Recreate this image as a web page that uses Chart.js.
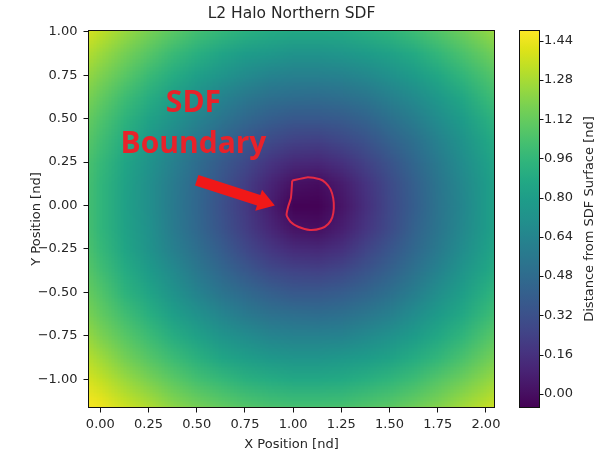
<!DOCTYPE html>
<html>
<head>
<meta charset="utf-8">
<script src="https://cdn.jsdelivr.net/npm/chart.js@4.4.1/dist/chart.umd.min.js"></script>
<style>
    html, body { margin: 0; padding: 0; background: #fff; }
    #chart { display: block; }
</style>
</head>
<body>
<canvas id="chart" width="602" height="457"></canvas>
<script>
// SDF samples on a regular grid, rows listed from top (largest y) to bottom
var xNodes = [-0.125, 0, 0.125, 0.25, 0.375, 0.5, 0.625, 0.75, 0.875, 1.0, 1.125, 1.25, 1.375, 1.5, 1.625, 1.75, 1.875, 2.0, 2.125];
var yNodes = [1.125, 1.0, 0.875, 0.75, 0.625, 0.5, 0.375, 0.25, 0.125, 0, -0.125, -0.25, -0.375, -0.5, -0.625, -0.75, -0.875, -1.0, -1.125, -1.25];
var sdfRows = [
    [1.51, 1.42, 1.34, 1.26, 1.19, 1.12, 1.07, 1.03, 1.00, 0.98, 0.98, 0.99, 1.02, 1.05, 1.10, 1.16, 1.23, 1.31, 1.39],
    [1.43, 1.33, 1.24, 1.16, 1.08, 1.01, 0.96, 0.91, 0.88, 0.86, 0.86, 0.87, 0.90, 0.94, 0.99, 1.06, 1.13, 1.21, 1.30],
    [1.35, 1.25, 1.16, 1.07, 0.98, 0.91, 0.84, 0.79, 0.76, 0.73, 0.73, 0.75, 0.78, 0.82, 0.88, 0.96, 1.04, 1.12, 1.22],
    [1.28, 1.18, 1.08, 0.98, 0.89, 0.81, 0.74, 0.68, 0.63, 0.61, 0.61, 0.62, 0.66, 0.71, 0.78, 0.86, 0.95, 1.04, 1.14],
    [1.22, 1.11, 1.00, 0.90, 0.80, 0.71, 0.63, 0.56, 0.51, 0.49, 0.48, 0.50, 0.54, 0.61, 0.68, 0.77, 0.86, 0.97, 1.07],
    [1.17, 1.05, 0.94, 0.83, 0.73, 0.63, 0.54, 0.46, 0.40, 0.36, 0.36, 0.38, 0.43, 0.51, 0.59, 0.69, 0.79, 0.90, 1.01],
    [1.13, 1.01, 0.89, 0.77, 0.66, 0.55, 0.45, 0.36, 0.29, 0.24, 0.23, 0.27, 0.33, 0.42, 0.51, 0.62, 0.73, 0.85, 0.96],
    [1.09, 0.97, 0.85, 0.73, 0.61, 0.49, 0.38, 0.28, 0.18, 0.12, 0.11, 0.16, 0.24, 0.34, 0.45, 0.57, 0.69, 0.81, 0.93],
    [1.08, 0.95, 0.83, 0.70, 0.58, 0.46, 0.34, 0.22, 0.10, 0.01, -0.01, 0.06, 0.17, 0.29, 0.41, 0.54, 0.66, 0.78, 0.91],
    [1.07, 0.95, 0.82, 0.70, 0.57, 0.45, 0.32, 0.20, 0.07, -0.05, -0.05, 0.03, 0.15, 0.28, 0.40, 0.53, 0.65, 0.78, 0.90],
    [1.08, 0.95, 0.83, 0.71, 0.58, 0.46, 0.34, 0.22, 0.11, 0.02, 0.00, 0.07, 0.18, 0.29, 0.42, 0.54, 0.66, 0.78, 0.91],
    [1.10, 0.97, 0.85, 0.73, 0.61, 0.50, 0.39, 0.28, 0.19, 0.13, 0.12, 0.16, 0.25, 0.35, 0.46, 0.57, 0.69, 0.81, 0.93],
    [1.13, 1.01, 0.89, 0.78, 0.67, 0.56, 0.46, 0.37, 0.29, 0.25, 0.24, 0.27, 0.34, 0.42, 0.52, 0.63, 0.74, 0.85, 0.97],
    [1.17, 1.06, 0.94, 0.84, 0.73, 0.63, 0.54, 0.47, 0.41, 0.37, 0.37, 0.39, 0.44, 0.51, 0.60, 0.70, 0.80, 0.91, 1.02],
    [1.22, 1.11, 1.01, 0.91, 0.81, 0.72, 0.64, 0.57, 0.52, 0.50, 0.49, 0.51, 0.55, 0.61, 0.69, 0.78, 0.87, 0.97, 1.08],
    [1.29, 1.18, 1.08, 0.99, 0.90, 0.82, 0.74, 0.69, 0.64, 0.62, 0.62, 0.63, 0.67, 0.72, 0.79, 0.87, 0.95, 1.05, 1.15],
    [1.36, 1.26, 1.16, 1.07, 0.99, 0.92, 0.85, 0.80, 0.76, 0.74, 0.74, 0.76, 0.79, 0.83, 0.89, 0.96, 1.04, 1.13, 1.22],
    [1.43, 1.34, 1.25, 1.17, 1.09, 1.02, 0.97, 0.92, 0.89, 0.87, 0.87, 0.88, 0.91, 0.95, 1.00, 1.07, 1.14, 1.22, 1.31],
    [1.52, 1.43, 1.34, 1.27, 1.19, 1.13, 1.08, 1.04, 1.01, 0.99, 0.99, 1.00, 1.03, 1.06, 1.11, 1.17, 1.24, 1.31, 1.40],
    [1.60, 1.52, 1.44, 1.37, 1.30, 1.24, 1.20, 1.16, 1.13, 1.12, 1.12, 1.13, 1.15, 1.18, 1.23, 1.28, 1.34, 1.41, 1.49]
];

// zero level contour of the field
var boundaryX = [0.995, 1.070, 1.139, 1.168, 1.194, 1.208, 1.211, 1.203, 1.182, 1.147, 1.087, 1.026, 0.986, 0.966, 0.974, 0.988, 0.992, 0.995];
var boundaryY = [0.143, 0.162, 0.151, 0.131, 0.093, 0.041, -0.016, -0.068, -0.106, -0.131, -0.141, -0.122, -0.093, -0.055, -0.007, 0.041, 0.089, 0.143];

var xRange = [-0.064, 2.047];
var yRange = [-1.165, 1.01];
var colorRange = [-0.058, 1.4835];
var xTicks = [0, 0.25, 0.5, 0.75, 1.0, 1.25, 1.5, 1.75, 2.0];
var yTicks = [-1.0, -0.75, -0.5, -0.25, 0, 0.25, 0.5, 0.75, 1.0];
var cbarTicks = [0, 0.16, 0.32, 0.48, 0.64, 0.80, 0.96, 1.12, 1.28, 1.44];

// callout text and arrow, in data units
var noteLines = ["SDF", "Boundary"];
var noteX = 0.483;
var noteY = [0.540, 0.300];
var arrowFrom = [0.500, 0.145];
var arrowTo = [0.905, 0.000];

var viridis = ["#440154", "#471365", "#482475", "#463480", "#414487", "#3b528b", "#355f8d",
    "#2f6c8e", "#2a788e", "#25848e", "#21918c", "#1e9c89", "#22a884", "#2fb47c", "#44bf70",
    "#5ec962", "#7ad151", "#9bd93c", "#bddf26", "#dfe318", "#fde725"];

var FONT = "DejaVu Sans";
var TEXT = "#262626";
var RED = "#e8222a";

function hexToRgb(h) {
    return [parseInt(h.substr(1, 2), 16), parseInt(h.substr(3, 2), 16), parseInt(h.substr(5, 2), 16)];
}
var viridisRgb = viridis.map(hexToRgb);

function colorFor(v) {
    var t = (v - colorRange[0]) / (colorRange[1] - colorRange[0]);
    t = Math.max(0, Math.min(1, t));
    var p = t * (viridisRgb.length - 1);
    var i = Math.min(Math.floor(p), viridisRgb.length - 2);
    var f = p - i;
    var a = viridisRgb[i], b = viridisRgb[i + 1];
    return [0, 1, 2].map(function(k) { return Math.round(a[k] + (b[k] - a[k]) * f); });
}

function fmt(v) {
    var s = Math.abs(v).toFixed(2);
    return v < -1e-9 ? "\u2212" + s : s;
}

// paints the sampled grid as a smooth image behind the data
var heatmapPlugin = {
    id: "heatmap",
    beforeDatasetsDraw: function(chart) {
        var ctx = chart.ctx, area = chart.chartArea;
        var x = chart.scales.x, y = chart.scales.y;
        var cols = xNodes.length, rows = yNodes.length;
        var img = document.createElement("canvas");
        img.width = cols;
        img.height = rows;
        var ictx = img.getContext("2d");
        var pix = ictx.createImageData(cols, rows);
        for (var r = 0; r < rows; r++) {
            for (var c = 0; c < cols; c++) {
                var rgb = colorFor(sdfRows[r][c]);
                var o = (r * cols + c) * 4;
                pix.data[o] = rgb[0];
                pix.data[o + 1] = rgb[1];
                pix.data[o + 2] = rgb[2];
                pix.data[o + 3] = 255;
            }
        }
        ictx.putImageData(pix, 0, 0);
        var hx = (xNodes[1] - xNodes[0]) / 2;
        var hy = (yNodes[0] - yNodes[1]) / 2;
        var left = x.getPixelForValue(xNodes[0] - hx);
        var right = x.getPixelForValue(xNodes[cols - 1] + hx);
        var top = y.getPixelForValue(yNodes[0] + hy);
        var bottom = y.getPixelForValue(yNodes[rows - 1] - hy);
        ctx.save();
        ctx.beginPath();
        ctx.rect(area.left, area.top, area.right - area.left, area.bottom - area.top);
        ctx.clip();
        ctx.imageSmoothingEnabled = true;
        ctx.drawImage(img, left, top, right - left, bottom - top);
        ctx.restore();
    },
    afterDatasetsDraw: function(chart) {
        var ctx = chart.ctx;
        var x = chart.scales.x, y = chart.scales.y;
        ctx.save();
        // callout text
        ctx.fillStyle = RED;
        ctx.font = "bold 30px 'Open Sans'";
        ctx.textAlign = "center";
        ctx.textBaseline = "alphabetic";
        for (var i = 0; i < noteLines.length; i++) {
            ctx.fillText(noteLines[i], x.getPixelForValue(noteX), y.getPixelForValue(noteY[i]));
        }
        // block arrow pointing at the contour
        var x0 = x.getPixelForValue(arrowFrom[0]), y0 = y.getPixelForValue(arrowFrom[1]);
        var x1 = x.getPixelForValue(arrowTo[0]), y1 = y.getPixelForValue(arrowTo[1]);
        var len = Math.hypot(x1 - x0, y1 - y0);
        var ang = Math.atan2(y1 - y0, x1 - x0);
        var shaft = 5.5, head = 11, headLen = 17;
        ctx.translate(x0, y0);
        ctx.rotate(ang);
        ctx.beginPath();
        ctx.moveTo(0, -shaft);
        ctx.lineTo(len - headLen, -shaft);
        ctx.lineTo(len - headLen, -head);
        ctx.lineTo(len, 0);
        ctx.lineTo(len - headLen, head);
        ctx.lineTo(len - headLen, shaft);
        ctx.lineTo(0, shaft);
        ctx.closePath();
        ctx.fillStyle = "#f01818";
        ctx.fill();
        ctx.restore();
    },
    afterDraw: function(chart) {
        var ctx = chart.ctx, area = chart.chartArea;
        var cb = chart.scales.cbar;
        ctx.save();
        // axes frame
        ctx.strokeStyle = "#111";
        ctx.lineWidth = 1;
        ctx.strokeRect(area.left + 0.5, area.top + 0.5, area.right - area.left - 1, area.bottom - area.top - 1);

        // colour bar
        var barL = area.right + 24, barW = 20;
        var yLo = cb.getPixelForValue(colorRange[0]), yHi = cb.getPixelForValue(colorRange[1]);
        var g = ctx.createLinearGradient(0, yLo, 0, yHi);
        viridis.forEach(function(c, i) { g.addColorStop(i / (viridis.length - 1), c); });
        ctx.fillStyle = g;
        ctx.fillRect(barL, yHi, barW, yLo - yHi);
        ctx.strokeRect(barL + 0.5, yHi + 0.5, barW, yLo - yHi - 1);
        ctx.beginPath();
        cbarTicks.forEach(function(v) {
            var py = Math.round(cb.getPixelForValue(v)) + 0.5;
            ctx.moveTo(barL + barW, py);
            ctx.lineTo(barL + barW + 4.5, py);
        });
        ctx.stroke();

        ctx.fillStyle = TEXT;
        ctx.font = "13px '" + FONT + "'";
        ctx.textAlign = "center";
        ctx.textBaseline = "middle";
        ctx.translate(590, (yLo + yHi) / 2);
        ctx.rotate(-Math.PI / 2);
        ctx.fillText("Distance from SDF Surface [nd]", 0, 0);
        ctx.restore();
    }
};

var boundaryPts = boundaryX.map(function(v, i) { return {x: v, y: boundaryY[i]}; });

var tickFont = {family: FONT, size: 13};

new Chart(document.getElementById("chart"), {
    type: "scatter",
    data: {
        datasets: [{
            data: boundaryPts,
            showLine: true,
            borderColor: "#e42a44",
            borderWidth: 2,
            pointRadius: 0,
            tension: 0.2,
            fill: false
        }]
    },
    options: {
        responsive: false,
        animation: false,
        layout: {padding: 0},
        plugins: {
            legend: {display: false},
            tooltip: {enabled: false},
            title: {
                display: true,
                text: "L2 Halo Northern SDF",
                fullSize: false,
                color: TEXT,
                font: {family: FONT, size: 15.5, weight: "normal"},
                padding: {top: 5, bottom: 6.4}
            }
        },
        scales: {
            x: {
                type: "linear",
                min: xRange[0],
                max: xRange[1],
                afterBuildTicks: function(scale) { scale.ticks = xTicks.map(function(v) { return {value: v}; }); },
                afterFit: function(scale) { scale.height = 49; },
                ticks: {font: tickFont, color: TEXT, padding: 4, maxRotation: 0, autoSkip: false, callback: fmt},
                grid: {drawOnChartArea: false, drawTicks: true, tickLength: 4.5, color: "#111", lineWidth: 1},
                border: {display: false},
                title: {display: true, text: "X Position [nd]", color: TEXT, font: tickFont, padding: {top: 0, bottom: 5}}
            },
            y: {
                type: "linear",
                min: yRange[0],
                max: yRange[1],
                afterBuildTicks: function(scale) { scale.ticks = yTicks.map(function(v) { return {value: v}; }); },
                afterFit: function(scale) { scale.width = 88; },
                ticks: {font: tickFont, color: TEXT, padding: 6, autoSkip: false, callback: fmt},
                grid: {drawOnChartArea: false, drawTicks: true, tickLength: 4.5, color: "#111", lineWidth: 1},
                border: {display: false},
                title: {display: true, text: "Y Position [nd]", color: TEXT, font: tickFont, padding: {top: 29, bottom: 0}}
            },
            cbar: {
                type: "linear",
                position: "right",
                min: colorRange[0],
                max: colorRange[1],
                afterBuildTicks: function(scale) { scale.ticks = cbarTicks.map(function(v) { return {value: v}; }); },
                afterFit: function(scale) { scale.width = 107; },
                // invisible tick marks push the labels past the colour bar
                ticks: {font: tickFont, color: TEXT, padding: 0, autoSkip: false, callback: fmt},
                grid: {drawOnChartArea: false, drawTicks: true, tickLength: 49, color: "rgba(0,0,0,0)"},
                border: {display: false}
            }
        }
    },
    plugins: [heatmapPlugin]
});
</script>
</body>
</html>
